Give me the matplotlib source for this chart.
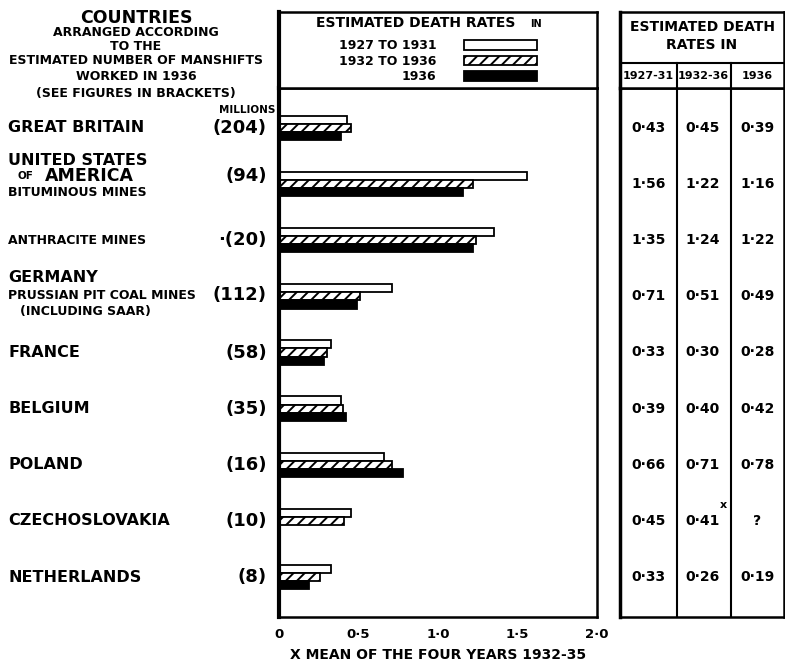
import numpy as np
import matplotlib
matplotlib.use("Agg")
import matplotlib.pyplot as plt

plt.rcParams['font.family'] = ['DejaVu Sans']
plt.rcParams['font.weight'] = 'bold'
plt.rcParams['hatch.linewidth'] = 1.4

# data
countries = ["GREAT BRITAIN", "UNITED STATES", "ANTHRACITE MINES", "GERMANY", "FRANCE",
             "BELGIUM", "POLAND", "CZECHOSLOVAKIA", "NETHERLANDS"]
manshifts = ["(204)", "(94)", "\u00b7(20)", "(112)", "(58)", "(35)", "(16)", "(10)", "(8)"]
rate_1927_31 = [0.43, 1.56, 1.35, 0.71, 0.33, 0.39, 0.66, 0.45, 0.33]
rate_1932_36 = [0.45, 1.22, 1.24, 0.51, 0.30, 0.40, 0.71, 0.41, 0.26]
rate_1936 = [0.39, 1.16, 1.22, 0.49, 0.28, 0.42, 0.78, np.nan, 0.19]
series_labels = ["1927 TO 1931", "1932 TO 1936", "1936"]
col_heads = ["1927-31", "1932-36", "1936"]
xticks = [0, 0.5, 1.0, 1.5, 2.0]
xtick_labels = ["0", "0\u00b75", "1\u00b70", "1\u00b75", "2\u00b70"]

W, H = 785, 665
fig = plt.figure(figsize=(W / 100, H / 100), dpi=100)

def fx(x):
    return x / W

def fy(y):
    return 1 - y / H

# axes boxes (pixel layout)
ax = fig.add_axes([fx(279), fy(617), fx(597) - fx(279), fy(88) - fy(617)])
hax = fig.add_axes([fx(279), fy(88), fx(597) - fx(279), fy(12) - fy(88)])
tax = fig.add_axes([fx(620), fy(617), fx(784) - fx(620), fy(88) - fy(617)], sharey=ax)
thax = fig.add_axes([fx(620), fy(88), fx(784) - fx(620), fy(12) - fy(88)])

rows = np.arange(len(countries))
bh = 0.145
series = [rate_1927_31, rate_1932_36, rate_1936]
styles = [dict(color='white', hatch=None), dict(color='white', hatch='///'), dict(color='black', hatch=None)]
handles = []
for k, (vals, st) in enumerate(zip(series, styles)):
    v = np.array(vals, dtype=float)
    ok = ~np.isnan(v)
    b = ax.barh(rows[ok] + (k - 1) * bh, v[ok], height=bh, left=0,
                color=st['color'], hatch=st['hatch'], edgecolor='black', linewidth=1.3,
                label=series_labels[k])
    handles.append(b)

ax.set_xlim(0, 2.0)
ax.set_ylim(len(rows) - 1 + 0.71, -0.71)
ax.set_xticks(xticks)
ax.set_xticklabels(xtick_labels, fontsize=9.5)
ax.tick_params(axis='x', length=0, pad=8)
ax.set_yticks([])
for s in ax.spines.values():
    s.set_linewidth(1.8)
ax.spines['left'].set_linewidth(3)
ax.set_xlabel("X MEAN OF THE FOUR YEARS 1932-35", fontsize=10, fontweight='bold', labelpad=5)

# legend header box
hax.set_xticks([])
hax.set_yticks([])
for s in hax.spines.values():
    s.set_linewidth(1.8)
hax.spines['left'].set_linewidth(3)
hax.text(0.43, 0.86, "ESTIMATED DEATH RATES", fontsize=10, ha='center', va='center',
         transform=hax.transAxes)
hax.text(0.79, 0.84, "IN", fontsize=7, ha='left', va='center', transform=hax.transAxes)
leg = hax.legend(handles=handles, loc='center', bbox_to_anchor=(0.5, 0.35), frameon=False,
                 markerfirst=False, handlelength=5.9, handleheight=0.75, fontsize=9,
                 labelspacing=0.2, handletextpad=2.2, borderpad=0)
for t in leg.get_texts():
    t.set_ha('center')

# table header
thax.set_xlim(0, 3)
thax.set_ylim(0, 1)
thax.set_xticks([])
thax.set_yticks([])
for s in thax.spines.values():
    s.set_linewidth(1.8)
thax.spines['left'].set_linewidth(2.5)
thax.axhline(0.33, color='black', lw=1.5)
thax.text(1.5, 0.80, "ESTIMATED DEATH", fontsize=10, ha='center', va='center')
thax.text(1.5, 0.56, "RATES IN", fontsize=10, ha='center', va='center')
for j, h in enumerate(col_heads):
    thax.text(j * 0.995 + 0.52, 0.16, h, fontsize=8, ha='center', va='center')
for xv in (1.04, 2.03):
    thax.plot([xv, xv], [0, 0.33], color='black', lw=1.5)

# table body
tax.set_xlim(0, 3)
tax.set_xticks([])
tax.tick_params(axis='y', left=False, labelleft=False)
for s in tax.spines.values():
    s.set_linewidth(1.8)
tax.spines['left'].set_linewidth(2.5)
for xv in (1.04, 2.03):
    tax.axvline(xv, color='black', lw=1.5)
for j, vals in enumerate(series):
    for i, v in enumerate(vals):
        txt = "?" if np.isnan(v) else ("%.2f" % v).replace(".", "\u00b7")
        tax.text(j * 0.995 + 0.52, i, txt, fontsize=10, ha='center', va='center')
tax.annotate("x", xy=(1.9, rows[7]), xytext=(0, 16), textcoords='offset pixels',
             fontsize=8, ha='center', va='center')

# left-hand text
def lab(x, row, dy, s, size, ha='left'):
    ax.annotate(s, xy=(fx(x), row), xycoords=('figure fraction', 'data'),
                xytext=(0, -dy), textcoords='offset pixels',
                fontsize=size, ha=ha, va='center', annotation_clip=False)

big, small, num = 11.5, 9, 13
head = [("COUNTRIES", 18, 12.5), ("ARRANGED ACCORDING", 33, small), ("TO THE", 46, small),
        ("ESTIMATED NUMBER OF MANSHIFTS", 61, small), ("WORKED IN 1936", 76, small),
        ("(SEE FIGURES IN BRACKETS)", 94, small)]
for s, y, size in head:
    fig.text(fx(136), fy(y), s, fontsize=size, ha='center', va='center')
fig.text(fx(275), fy(110), "MILLIONS", fontsize=7.5, ha='right', va='center')

for i, c in enumerate(countries):
    if c == "UNITED STATES":
        lab(8, i, -24, "UNITED STATES", big)
        lab(18, i, -8, "OF", 7.5)
        lab(45, i, -8, "AMERICA", 12.5)
        lab(8, i, 8, "BITUMINOUS MINES", small)
        lab(267, i, -8, manshifts[i], num, 'right')
    elif c == "GERMANY":
        lab(8, i, -19, "GERMANY", big)
        lab(8, i, -1, "PRUSSIAN PIT COAL MINES", small)
        lab(20, i, 15, "(INCLUDING SAAR)", small)
        lab(267, i, -1, manshifts[i], num, 'right')
    elif c == "ANTHRACITE MINES":
        lab(8, i, 0, c, small)
        lab(267, i, 0, manshifts[i], num, 'right')
    else:
        lab(8, i, 0, c, big)
        lab(267, i, 0, manshifts[i], num, 'right')

fig.savefig("out.png", dpi=100)
